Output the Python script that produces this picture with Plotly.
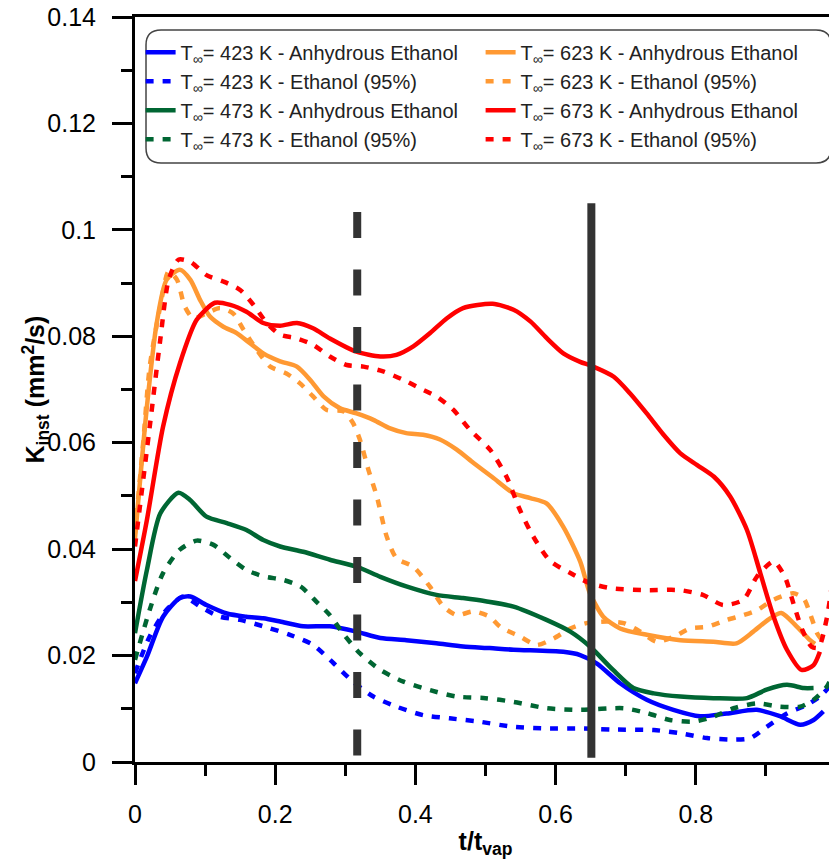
import plotly.graph_objects as go

# ---------------- data ----------------
x_423_anh = [0, 0.017, 0.040, 0.064, 0.079, 0.102, 0.131, 0.159, 0.183, 0.207, 0.240, 0.278, 0.316, 0.350,
             0.387, 0.430, 0.468, 0.506, 0.540, 0.611, 0.635, 0.659, 0.692, 0.730, 0.768, 0.806, 0.844,
             0.887, 0.920, 0.949, 0.968, 0.982]
y_423_anh = [0.0148, 0.0198, 0.0273, 0.0308, 0.0311, 0.0295, 0.0279, 0.0273, 0.0270, 0.0264, 0.0255, 0.0255,
             0.0245, 0.0233, 0.0229, 0.0223, 0.0217, 0.0214, 0.0211, 0.0207, 0.0201, 0.0185, 0.0148, 0.0117,
             0.0098, 0.0086, 0.0091, 0.0098, 0.0086, 0.0070, 0.0079, 0.0095]

x_423_e95 = [0, 0.021, 0.045, 0.069, 0.093, 0.121, 0.150, 0.183, 0.221, 0.254, 0.283, 0.311, 0.340, 0.373,
             0.411, 0.449, 0.490, 0.540, 0.587, 0.635, 0.683, 0.740, 0.778, 0.816, 0.854, 0.878, 0.901,
             0.930, 0.958, 0.977, 0.991]
y_423_e95 = [0.0167, 0.0236, 0.0286, 0.0311, 0.0292, 0.0273, 0.0267, 0.0255, 0.0239, 0.0220, 0.0186, 0.0151,
             0.0123, 0.0104, 0.0088, 0.0082, 0.0076, 0.0066, 0.0063, 0.0063, 0.0061, 0.0060, 0.0054, 0.0045,
             0.0042, 0.0045, 0.0066, 0.0091, 0.0107, 0.0123, 0.0142]

x_473_anh = [0, 0.017, 0.036, 0.062, 0.079, 0.102, 0.131, 0.159, 0.183, 0.207, 0.240, 0.278, 0.316, 0.350,
             0.387, 0.430, 0.468, 0.500, 0.540, 0.587, 0.621, 0.649, 0.682, 0.711, 0.740, 0.778, 0.825,
             0.873, 0.901, 0.930, 0.954, 0.968]
y_473_anh = [0.0242, 0.0361, 0.0467, 0.0506, 0.0492, 0.0461, 0.0449, 0.0436, 0.0417, 0.0405, 0.0395, 0.0380,
             0.0367, 0.0348, 0.0330, 0.0314, 0.0308, 0.0302, 0.0292, 0.0267, 0.0245, 0.0217, 0.0173, 0.0139,
             0.0129, 0.0123, 0.0120, 0.0120, 0.0136, 0.0145, 0.0139, 0.0139]

x_473_e95 = [0, 0.021, 0.040, 0.064, 0.088, 0.112, 0.136, 0.159, 0.183, 0.212, 0.236, 0.259, 0.278, 0.297,
             0.321, 0.350, 0.383, 0.421, 0.459, 0.500, 0.540, 0.587, 0.635, 0.697, 0.730, 0.763, 0.797,
             0.825, 0.854, 0.887, 0.920, 0.949, 0.968, 0.987, 0.998]
y_473_e95 = [0.0192, 0.0286, 0.0355, 0.0399, 0.0416, 0.0408, 0.0383, 0.0361, 0.0349, 0.0342, 0.0330, 0.0301,
             0.0276, 0.0241, 0.0204, 0.0173, 0.0151, 0.0135, 0.0123, 0.0120, 0.0113, 0.0101, 0.0098, 0.0101,
             0.0092, 0.0079, 0.0076, 0.0085, 0.0101, 0.0110, 0.0104, 0.0104, 0.0117, 0.0142, 0.0173]

x_623_anh = [0, 0.017, 0.031, 0.045, 0.064, 0.079, 0.093, 0.107, 0.126, 0.145, 0.164, 0.183, 0.207, 0.231,
             0.250, 0.269, 0.292, 0.316, 0.340, 0.364, 0.387, 0.411, 0.435, 0.459, 0.483, 0.510, 0.540,
             0.564, 0.587, 0.611, 0.635, 0.649, 0.668, 0.692, 0.730, 0.778, 0.825, 0.858, 0.882, 0.906,
             0.922, 0.943, 0.963, 0.970]
y_623_anh = [0.0420, 0.0668, 0.0825, 0.0906, 0.0925, 0.0906, 0.0868, 0.0837, 0.0818, 0.0806, 0.0787, 0.0768,
             0.0753, 0.0743, 0.0718, 0.0687, 0.0665, 0.0655, 0.0643, 0.0627, 0.0618, 0.0615, 0.0606, 0.0587,
             0.0562, 0.0535, 0.0505, 0.0496, 0.0486, 0.0442, 0.0377, 0.0317, 0.0273, 0.0251, 0.0239, 0.0229,
             0.0226, 0.0223, 0.0245, 0.0270, 0.0280, 0.0256, 0.0229, 0.0222]

x_623_e95 = [0, 0.012, 0.021, 0.036, 0.048, 0.060, 0.071, 0.083, 0.102, 0.121, 0.140, 0.155, 0.174, 0.193,
             0.216, 0.235, 0.254, 0.273, 0.297, 0.311, 0.321, 0.333, 0.345, 0.359, 0.373, 0.397, 0.421,
             0.440, 0.459, 0.483, 0.506, 0.521, 0.549, 0.573, 0.597, 0.621, 0.644, 0.673, 0.697, 0.721,
             0.744, 0.768, 0.792, 0.816, 0.844, 0.868, 0.887, 0.911, 0.939, 0.954, 0.963, 0.973, 0.980]
y_623_e95 = [0.0430, 0.0605, 0.0743, 0.0856, 0.0922, 0.0906, 0.0856, 0.0834, 0.0843, 0.0853, 0.0843, 0.0812,
             0.0774, 0.0743, 0.0730, 0.0712, 0.0687, 0.0662, 0.0659, 0.0637, 0.0605, 0.0549, 0.0499, 0.0424,
             0.0383, 0.0367, 0.0329, 0.0292, 0.0276, 0.0283, 0.0273, 0.0254, 0.0236, 0.0220, 0.0232, 0.0251,
             0.0261, 0.0264, 0.0261, 0.0245, 0.0226, 0.0235, 0.0251, 0.0254, 0.0267, 0.0276, 0.0285, 0.0305,
             0.0317, 0.0307, 0.0279, 0.0242, 0.0229]

x_673_anh = [0, 0.017, 0.040, 0.064, 0.088, 0.114, 0.136, 0.159, 0.183, 0.207, 0.231, 0.254, 0.278, 0.316,
             0.350, 0.373, 0.397, 0.421, 0.445, 0.468, 0.510, 0.540, 0.564, 0.587, 0.611, 0.635, 0.652,
             0.683, 0.706, 0.730, 0.754, 0.778, 0.802, 0.826, 0.849, 0.873, 0.892, 0.911, 0.930, 0.951,
             0.968, 0.977]
y_673_anh = [0.0340, 0.0455, 0.0630, 0.0749, 0.0831, 0.0863, 0.0859, 0.0846, 0.0825, 0.0820, 0.0825, 0.0815,
             0.0796, 0.0771, 0.0762, 0.0765, 0.0781, 0.0806, 0.0834, 0.0853, 0.0861, 0.0850, 0.0828, 0.0797,
             0.0768, 0.0752, 0.0744, 0.0724, 0.0693, 0.0655, 0.0615, 0.0580, 0.0558, 0.0536, 0.0499, 0.0436,
             0.0355, 0.0273, 0.0211, 0.0173, 0.0182, 0.0207]

x_673_e95 = [0, 0.021, 0.036, 0.048, 0.062, 0.079, 0.102, 0.126, 0.150, 0.169, 0.188, 0.207, 0.231, 0.254,
             0.278, 0.302, 0.326, 0.354, 0.383, 0.407, 0.430, 0.454, 0.478, 0.507, 0.530, 0.549, 0.568,
             0.592, 0.621, 0.649, 0.682, 0.730, 0.777, 0.810, 0.839, 0.868, 0.887, 0.911, 0.927, 0.940,
             0.952, 0.965, 0.975, 0.987, 0.995, 1.0]
y_673_e95 = [0.0405, 0.0630, 0.0793, 0.0906, 0.0944, 0.0940, 0.0915, 0.0903, 0.0887, 0.0859, 0.0825, 0.0803,
             0.0796, 0.0784, 0.0762, 0.0746, 0.0743, 0.0734, 0.0718, 0.0702, 0.0687, 0.0662, 0.0624, 0.0586,
             0.0536, 0.0474, 0.0424, 0.0378, 0.0355, 0.0336, 0.0326, 0.0323, 0.0323, 0.0314, 0.0295, 0.0305,
             0.0348, 0.0377, 0.0348, 0.0295, 0.0248, 0.0217, 0.0215, 0.0271, 0.0340, 0.0380]

# vertical reference lines (t/t_vap positions and their extent)
ref_dashed_x = 0.317
ref_dashed_y = [0.0012, 0.1040]
ref_solid_x = 0.651
ref_solid_y = [0.0008, 0.1050]

x_tick_vals = [0, 0.2, 0.4, 0.6, 0.8, 1]
x_tick_text = ["0", "0.2", "0.4", "0.6", "0.8", "1"]
y_tick_vals = [0, 0.02, 0.04, 0.06, 0.08, 0.1, 0.12, 0.14]
y_tick_text = ["0", "0.02", "0.04", "0.06", "0.08", "0.1", "0.12", "0.14"]

# ---------------- styling ----------------
BLUE = "#0000FF"
GREEN = "#006633"
ORANGE = "#FF9933"
RED = "#FF0000"
FONT = "Arial, 'Liberation Sans', sans-serif"
DOT = "8px,9px"

series = [
    ("T<sub>∞</sub>= 423 K - Anhydrous Ethanol", x_423_anh, y_423_anh, BLUE, "solid", 1),
    ("T<sub>∞</sub>= 623 K - Anhydrous Ethanol", x_623_anh, y_623_anh, ORANGE, "solid", 2),
    ("T<sub>∞</sub>= 423 K - Ethanol (95%)", x_423_e95, y_423_e95, BLUE, DOT, 3),
    ("T<sub>∞</sub>= 623 K - Ethanol (95%)", x_623_e95, y_623_e95, ORANGE, DOT, 4),
    ("T<sub>∞</sub>= 473 K - Anhydrous Ethanol", x_473_anh, y_473_anh, GREEN, "solid", 5),
    ("T<sub>∞</sub>= 673 K - Anhydrous Ethanol", x_673_anh, y_673_anh, RED, "solid", 6),
    ("T<sub>∞</sub>= 473 K - Ethanol (95%)", x_473_e95, y_473_e95, GREEN, DOT, 7),
    ("T<sub>∞</sub>= 673 K - Ethanol (95%)", x_673_e95, y_673_e95, RED, DOT, 8),
]

fig = go.Figure()
for name, xs, ys, color, dash, rank in series:
    fig.add_trace(go.Scatter(
        x=xs, y=ys, mode="lines", name=name, legendrank=rank,
        line=dict(color=color, width=4.5, dash=dash, shape="spline", smoothing=0.7),
    ))

fig.add_trace(go.Scatter(
    x=[ref_dashed_x, ref_dashed_x], y=ref_dashed_y, mode="lines", showlegend=False,
    line=dict(color="#333333", width=8, dash="26px,31.5px"), hoverinfo="skip",
))
fig.add_trace(go.Scatter(
    x=[ref_solid_x, ref_solid_x], y=ref_solid_y, mode="lines", showlegend=False,
    line=dict(color="#333333", width=8), hoverinfo="skip",
))

# rounded legend frame (paper coords)
L, R, T, B = 0.0157, 0.9929, 0.9826, 0.8040
rx, ry = 0.0214, 0.0201
path = (f"M {L+rx},{T} L {R-rx},{T} Q {R},{T} {R},{T-ry} L {R},{B+ry} Q {R},{B} {R-rx},{B} "
        f"L {L+rx},{B} Q {L},{B} {L},{B+ry} L {L},{T-ry} Q {L},{T} {L+rx},{T} Z")
fig.add_shape(type="path", path=path, xref="paper", yref="paper",
              line=dict(color="#444444", width=1.5), fillcolor="rgba(255,255,255,0)", layer="above")

# y-axis title as an annotation for exact placement
fig.add_annotation(
    text="<b>K<sub>inst</sub> (mm<sup>2</sup>/s)</b>", textangle=-90,
    xref="paper", yref="paper", x=-100 / 701, y=0.5, xanchor="center", yanchor="middle",
    showarrow=False, font=dict(family=FONT, size=25, color="black"),
)

axis_common = dict(
    showline=True, linecolor="black", linewidth=3, mirror=True,
    ticks="outside", ticklen=20, tickwidth=2.5, tickcolor="black",
    showgrid=False, zeroline=False, automargin=False,
    ticklabeloverflow="allow",
    tickfont=dict(family=FONT, size=25, color="black"),
)

fig.update_layout(
    width=837, height=863,
    margin=dict(l=127, r=9, t=9, b=109, autoexpand=False),
    paper_bgcolor="white", plot_bgcolor="white",
    font=dict(family=FONT, color="black"),
    showlegend=True,
    legend=dict(
        orientation="h", x=0.008, y=0.979, xanchor="left", yanchor="top",
        entrywidth=295, entrywidthmode="pixels",
        font=dict(family=FONT, size=20, color="#222222"),
        bgcolor="rgba(0,0,0,0)", borderwidth=0,
        traceorder="normal",
    ),
    xaxis=dict(
        range=[0, 1], tickvals=x_tick_vals, ticktext=x_tick_text,
        minor=dict(dtick=0.1, ticks="outside", ticklen=11, tickwidth=2.5, tickcolor="black"),
        title=dict(text="<b>t/t<sub>vap</sub></b>", font=dict(family=FONT, size=25, color="black"), standoff=6),
        ticklabelstandoff=8,
        **axis_common,
    ),
    yaxis=dict(
        range=[0, 0.14], tickvals=y_tick_vals, ticktext=y_tick_text,
        minor=dict(dtick=0.01, ticks="outside", ticklen=11, tickwidth=2.5, tickcolor="black"),
        ticklabelstandoff=11,
        **axis_common,
    ),
)

fig.write_html("out.html")
